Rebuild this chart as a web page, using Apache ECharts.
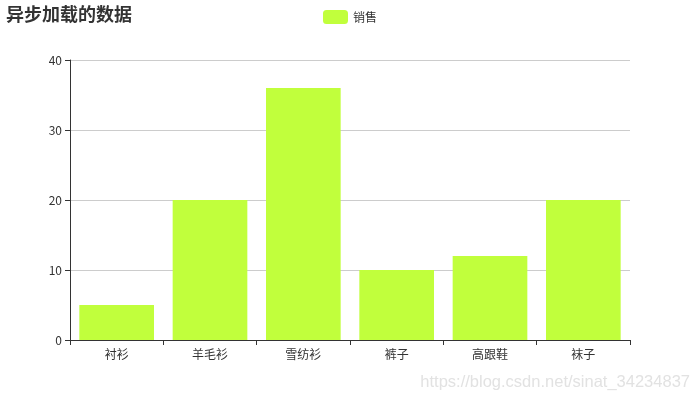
<!DOCTYPE html>
<html>
<head>
<meta charset="utf-8">
<script src="https://cdn.jsdelivr.net/npm/echarts@6/dist/echarts.min.js"></script>
<style>html,body{margin:0;padding:0;background:#fff}#main{width:700px;height:400px}</style>
</head>
<body>
<div id="main"></div>
<script>
const categories = ['衬衫', '羊毛衫', '雪纺衫', '裤子', '高跟鞋', '袜子'];
const salesValues = [5, 20, 36, 10, 12, 20];
const yTicks = [0, 10, 20, 30, 40];

const chart = echarts.init(document.getElementById('main'));
const font = '"Noto Sans CJK SC", sans-serif';
chart.setOption({
  animation: false,
  textStyle: { fontFamily: font },
  title: {
    text: '异步加载的数据',
    left: 1, top: 0,
    textStyle: { fontSize: 18, fontWeight: 'bold', color: '#333', fontFamily: font }
  },
  legend: {
    data: ['销售'],
    top: 5, left: 'center',
    itemWidth: 25, itemHeight: 14,
    textStyle: { color: '#333', fontSize: 12, fontFamily: font }
  },
  grid: { left: 70, right: 70, top: 60, bottom: 60 },
  xAxis: {
    type: 'category',
    data: categories,
    axisLine: { lineStyle: { color: '#333' } },
    axisTick: { show: true, lineStyle: { color: '#333' } },
    axisLabel: { color: '#333', fontSize: 12, fontFamily: font }
  },
  yAxis: {
    type: 'value',
    min: yTicks[0], max: yTicks[yTicks.length - 1], interval: 10,
    axisLine: { show: true, lineStyle: { color: '#333' } },
    axisTick: { show: true, lineStyle: { color: '#333' } },
    axisLabel: { color: '#333', fontSize: 12, fontFamily: font },
    splitLine: { lineStyle: { color: '#ccc' } }
  },
  series: [{
    name: '销售',
    type: 'bar',
    data: salesValues,
    barCategoryGap: '20%',
    itemStyle: { color: '#c1ff3c' }
  }],
  graphic: [{
    type: 'text',
    right: 10, bottom: 9,
    style: {
      text: 'https://blog.csdn.net/sinat_34234837',
      fill: '#e2e2e2',
      font: '16.5px "Liberation Sans", Arial, sans-serif'
    }
  }]
});
</script>
</body>
</html>
